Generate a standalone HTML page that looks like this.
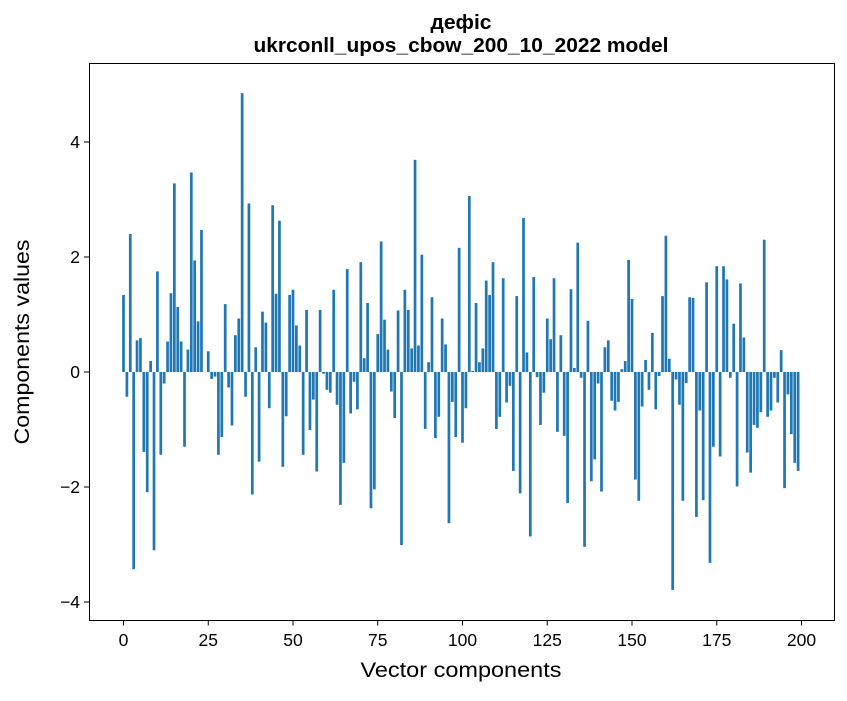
<!DOCTYPE html>
<html><head><meta charset="utf-8"><style>
body{margin:0;background:#fff;}
svg text{font-family:"Liberation Sans","DejaVu Sans",sans-serif;}
</style></head><body>
<svg id="chart" width="847" height="696" xmlns="http://www.w3.org/2000/svg">
<rect width="847" height="696" fill="#fff"/>
<text x="461" y="29" text-anchor="middle" font-size="20" font-weight="bold" textLength="61" lengthAdjust="spacingAndGlyphs">дефіс</text>
<text x="461" y="52" text-anchor="middle" font-size="20" font-weight="bold" textLength="415" lengthAdjust="spacingAndGlyphs">ukrconll_upos_cbow_200_10_2022 model</text>
<g id="bars"></g>
<rect x="89.5" y="63.5" width="745" height="557" fill="none" stroke="#000" stroke-width="1"/>
<g id="xticks"></g>
<g id="yticks"></g>
<text x="461" y="677" text-anchor="middle" font-size="21" textLength="201" lengthAdjust="spacingAndGlyphs">Vector components</text>
<text transform="translate(29,342) rotate(-90)" text-anchor="middle" font-size="21" textLength="205" lengthAdjust="spacingAndGlyphs">Components values</text>
</svg>
<script>
const values = [1.34,-0.43,2.40,-3.43,0.55,0.59,-1.39,-2.09,0.19,-3.1,1.75,-1.44,-0.2,0.53,1.37,3.28,1.13,0.53,-1.3,0.39,3.47,1.94,0.88,2.47,0.0,0.36,-0.12,-0.08,-1.44,-1.13,1.18,-0.27,-0.93,0.64,0.93,4.85,-0.43,2.93,-2.13,0.43,-1.56,1.05,0.86,-0.63,2.9,1.36,2.63,-1.65,-0.77,1.34,1.43,0.81,0.46,-1.44,1.08,-1.01,-0.48,-1.73,1.08,-0.03,-0.31,-0.36,1.43,-0.57,-2.31,-1.58,1.79,-0.72,-0.17,-0.65,1.91,0.24,1.2,-2.37,-2.04,0.66,2.27,0.91,0.39,-0.34,-0.8,1.07,-3.01,1.43,1.08,0.41,3.69,0.46,2.04,-0.99,0.17,1.3,-1.15,-0.78,0.93,0.48,-2.63,-0.52,-1.13,2.16,-1.23,-0.63,3.06,0.02,1.2,0.17,0.41,1.59,1.34,1.91,-0.99,-0.78,1.63,-0.53,-0.24,-1.72,1.32,-2.11,2.68,0.34,-2.86,1.65,-0.09,-0.92,-0.36,0.93,0.57,1.63,-1.04,0.64,-1.11,-2.28,1.44,0.07,2.25,-0.1,-3.04,0.89,-1.9,-1.52,-0.2,-2.08,0.43,0.55,-0.5,-0.67,-0.52,0.05,0.19,1.95,1.27,-1.87,-2.24,-0.6,0.21,-0.31,0.68,-0.65,-0.07,1.32,2.37,0.23,-3.79,-0.13,-0.57,-2.24,-0.19,1.3,1.29,-2.52,-0.67,-2.23,1.56,-3.32,-1.3,1.84,-1.47,1.84,1.61,-0.1,0.84,-1.99,1.54,0.6,-1.4,-1.75,-0.92,-0.97,-0.7,2.3,-0.78,-0.67,-0.1,-0.53,0.38,-2.02,-0.39,-1.08,-1.58,-1.72];
const xTicks = [0,25,50,75,100,125,150,175,200];
const yTicks = [-4,-2,0,2,4];
const yTickLabels = ["\u22124","\u22122","0","2","4"];
const NS="http://www.w3.org/2000/svg";
const xScale = v => 123.5 + v*3.39;
const yScale = v => 372 - v*57.5;
const bars=document.getElementById('bars');
values.forEach((v,i)=>{
  const r=document.createElementNS(NS,'rect');
  const y0=yScale(0), y1=yScale(v);
  r.setAttribute('x',xScale(i-0.4));
  r.setAttribute('width',0.8*3.39);
  r.setAttribute('y',Math.min(y0,y1));
  r.setAttribute('height',Math.abs(y1-y0));
  r.setAttribute('fill','#1f77b4');
  
  
  bars.appendChild(r);
});
const xg=document.getElementById('xticks');
xTicks.forEach(t=>{
  const x=xScale(t);
  const l=document.createElementNS(NS,'line');
  l.setAttribute('x1',x);l.setAttribute('x2',x);l.setAttribute('y1',620.5);l.setAttribute('y2',625.5);l.setAttribute('stroke','#000');
  
  
  xg.appendChild(l);
  const tx=document.createElementNS(NS,'text');
  tx.setAttribute('x',x);tx.setAttribute('y',646);tx.setAttribute('text-anchor','middle');tx.setAttribute('font-size','17.5');
  tx.textContent=t;
  
  
  xg.appendChild(tx);
});
const yg=document.getElementById('yticks');
yTicks.forEach((t,i)=>{
  const y=yScale(t);
  const l=document.createElementNS(NS,'line');
  l.setAttribute('x1',84);l.setAttribute('x2',89.5);l.setAttribute('y1',y);l.setAttribute('y2',y);l.setAttribute('stroke','#000');
  
  
  yg.appendChild(l);
  const tx=document.createElementNS(NS,'text');
  tx.setAttribute('x',80);tx.setAttribute('y',y+6);tx.setAttribute('text-anchor','end');tx.setAttribute('font-size','17.5');
  tx.textContent=yTickLabels[i];
  
  
  yg.appendChild(tx);
});
</script>
</body></html>
